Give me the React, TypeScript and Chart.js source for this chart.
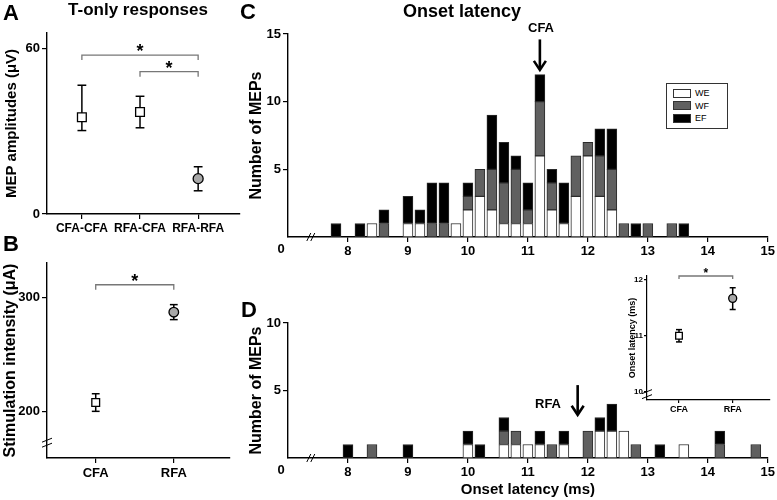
import React, { useEffect, useRef } from 'react';
import { Chart, registerables } from 'chart.js';
Chart.register(...registerables);

const FONT = "'Liberation Sans', Arial, Helvetica, sans-serif";
const PAGE_W = 777;
const PAGE_H = 500;

// ---------- Panel A: T-only responses ----------
const ampCategories = ['CFA-CFA', 'RFA-CFA', 'RFA-RFA'];
const ampMeans = [35.0, 36.9, 12.8];
const ampLow = [30.2, 31.2, 8.4];
const ampHigh = [46.6, 42.6, 17.1];
const ampTicks = [0, 60];
const ampBrackets = [
  { from: 1, to: 3, y: 57.5 },
  { from: 2, to: 3, y: 51.5 },
];

// ---------- Panel B: stimulation intensity ----------
const stimCategories = ['CFA', 'RFA'];
const stimMeans = [208.1, 287.0];
const stimLow = [200.3, 280.5];
const stimHigh = [215.7, 293.6];
const stimTicks = [200, 300];
const stimBrackets = [{ from: 1, to: 2, y: 311 }];

// ---------- Panels C/D: onset latency histograms ----------
const latencyBins = [7.8, 8.0, 8.2, 8.4, 8.6, 8.8, 9.0, 9.2, 9.4, 9.6, 9.8, 10.0, 10.2, 10.4, 10.6, 10.8, 11.0, 11.2, 11.4, 11.6, 11.8, 12.0, 12.2, 12.4, 12.6, 12.8, 13.0, 13.2, 13.4, 13.6, 13.8, 14.0, 14.2, 14.4, 14.6, 14.8];
const latencyTicks = [8, 9, 10, 11, 12, 13, 14, 15];

const cfaWE = [0, 0, 0, 1, 0, 0, 1, 1, 0, 0, 1, 2, 3, 2, 1, 1, 1, 6, 2, 1, 3, 6, 3, 2, 0, 0, 0, 0, 0, 0, 0, 0, 0, 0, 0, 0];
const cfaWF = [0, 0, 0, 0, 1, 0, 0, 0, 1, 1, 0, 1, 2, 3, 3, 4, 1, 4, 2, 0, 3, 1, 3, 3, 1, 0, 1, 0, 1, 0, 0, 0, 0, 0, 0, 0];
const cfaEF = [1, 0, 1, 0, 1, 0, 2, 1, 3, 3, 0, 1, 0, 4, 3, 1, 2, 2, 1, 3, 0, 0, 2, 3, 0, 1, 0, 0, 0, 1, 0, 0, 0, 0, 0, 0];
const cfaCountTicks = [5, 10, 15];
const cfaArrowAt = 11.2;

const rfaWE = [0, 0, 0, 0, 0, 0, 0, 0, 0, 0, 0, 1, 0, 0, 1, 1, 1, 1, 0, 1, 0, 0, 2, 2, 2, 0, 0, 0, 0, 1, 0, 0, 0, 0, 0, 0];
const rfaWF = [0, 0, 0, 1, 0, 0, 0, 0, 0, 0, 0, 0, 0, 0, 1, 1, 0, 0, 1, 0, 0, 2, 0, 0, 0, 1, 0, 0, 0, 0, 0, 0, 1, 0, 0, 1];
const rfaEF = [0, 1, 0, 0, 0, 0, 1, 0, 0, 0, 0, 1, 1, 0, 1, 0, 0, 1, 0, 1, 0, 0, 1, 2, 0, 0, 0, 1, 0, 0, 0, 0, 1, 0, 0, 0];
const rfaCountTicks = [5, 10];
const rfaArrowAt = 11.83;

const seriesNames = ['WE', 'WF', 'EF'];
const seriesColors = ['#ffffff', '#606060', '#000000'];

// ---------- Inset: onset latency means ----------
const insetCategories = ['CFA', 'RFA'];
const insetMeans = [11.0, 11.67];
const insetLow = [10.89, 11.47];
const insetHigh = [11.11, 11.86];
const insetTicks = [10, 11, 12];
const insetBrackets = [{ from: 1, to: 2, y: 12.07 }];

// ---------- helpers ----------
const fixWidth = (w: number) => (s: any) => { s.width = w; };
const fixHeight = (h: number) => (s: any) => { s.height = h; };
const setTicks = (vals: number[]) => (s: any) => { s.ticks = vals.map((v) => ({ value: v })); };
const bold = (size: number) => ({ family: FONT, size, weight: 'bold' as const });

const axisBorder = { display: true, color: '#000', width: 1.4 };
const tickGrid = (len: number) => ({ display: true, drawOnChartArea: false, drawTicks: true, tickLength: len, color: '#000', lineWidth: 1.2 });

function errorBarPlugin(xs: number[], lows: number[], highs: number[], cap: number) {
  return {
    id: 'errorBars',
    beforeDatasetsDraw(chart: any) {
      const { ctx, scales } = chart;
      const x = scales.x, y = scales.y;
      ctx.save();
      ctx.strokeStyle = '#000';
      ctx.lineWidth = 1.5;
      xs.forEach((xv, i) => {
        const px = x.getPixelForValue(xv);
        const top = y.getPixelForValue(highs[i]);
        const bot = y.getPixelForValue(lows[i]);
        ctx.beginPath();
        ctx.moveTo(px, top); ctx.lineTo(px, bot);
        ctx.stroke();
        ctx.beginPath();
        ctx.moveTo(px - cap, top); ctx.lineTo(px + cap, top);
        ctx.stroke();
        ctx.beginPath();
        ctx.moveTo(px - cap, bot); ctx.lineTo(px + cap, bot);
        ctx.stroke();
      });
      ctx.restore();
    },
  };
}

function bracketPlugin(brackets: { from: number; to: number; y: number }[], drop: number, star: number) {
  return {
    id: 'brackets',
    afterDraw(chart: any) {
      const { ctx, scales } = chart;
      const x = scales.x, y = scales.y;
      ctx.save();
      brackets.forEach((b) => {
        const x1 = x.getPixelForValue(b.from);
        const x2 = x.getPixelForValue(b.to);
        const py = y.getPixelForValue(b.y);
        ctx.strokeStyle = '#777';
        ctx.lineWidth = 1.3;
        ctx.beginPath();
        ctx.moveTo(x1, py + drop); ctx.lineTo(x1, py); ctx.lineTo(x2, py); ctx.lineTo(x2, py + drop);
        ctx.stroke();
        ctx.fillStyle = '#000';
        ctx.font = `bold ${star}px ${FONT}`;
        ctx.textAlign = 'center';
        ctx.textBaseline = 'alphabetic';
        ctx.fillText('*', (x1 + x2) / 2, py + star * 0.12);
      });
      ctx.restore();
    },
  };
}

function drawBreak(ctx: any, px: number, py: number, horizontalAxis: boolean) {
  ctx.save();
  ctx.strokeStyle = '#000';
  ctx.lineWidth = 1;
  ctx.beginPath();
  if (horizontalAxis) {
    [-2, 2].forEach((d) => { ctx.moveTo(px + d - 2, py + 4); ctx.lineTo(px + d + 2, py - 4); });
  } else {
    [-2.5, 2.5].forEach((d) => { ctx.moveTo(px - 5, py + d + 2); ctx.lineTo(px + 5, py + d - 2); });
  }
  ctx.stroke();
  ctx.restore();
}

function yBreakPlugin(at: number) {
  return {
    id: 'yBreak',
    afterDraw(chart: any) {
      const { ctx, scales } = chart;
      drawBreak(ctx, scales.x.left, scales.y.getPixelForValue(at), false);
    },
  };
}

function histExtrasPlugin(arrowAt: number, arrowTop: number, arrowTip: number, breakAt: number) {
  return {
    id: 'histExtras',
    afterDraw(chart: any) {
      const { ctx, scales } = chart;
      const x = scales.x, y = scales.y;
      const ax = x.getPixelForValue(arrowAt);
      const t = y.getPixelForValue(arrowTop);
      const b = y.getPixelForValue(arrowTip);
      ctx.save();
      ctx.strokeStyle = '#000';
      ctx.lineWidth = 2.6;
      ctx.beginPath(); ctx.moveTo(ax, t); ctx.lineTo(ax, b - 1); ctx.stroke();
      ctx.beginPath(); ctx.moveTo(ax - 6, b - 9); ctx.lineTo(ax, b); ctx.lineTo(ax + 6, b - 9); ctx.stroke();
      ctx.restore();
      drawBreak(ctx, x.getPixelForValue(breakAt), y.bottom, true);
      ctx.save();
      ctx.fillStyle = '#000';
      ctx.font = `bold 13px ${FONT}`;
      ctx.textAlign = 'center';
      ctx.textBaseline = 'middle';
      ctx.fillText('0', x.left - 7, y.bottom + 12);
      ctx.restore();
    },
  };
}

function pointDataset(xs: number[], ys: number[], styles: string[], radii: number[], fills: string[]) {
  return {
    data: xs.map((xv, i) => ({ x: xv, y: ys[i] })),
    pointStyle: styles,
    pointRadius: radii,
    backgroundColor: fills,
    borderColor: '#000',
    borderWidth: 1.3,
    showLine: false,
  };
}

// ---------- chart configs ----------
function configA() {
  const xs = ampCategories.map((_, i) => i + 1);
  const ds = pointDataset(xs, ampMeans, ['rect', 'rect', 'circle'], [6.2, 6.2, 5], ['#ffffff', '#ffffff', '#a8a8a8']);
  return {
    type: 'scatter',
    data: { datasets: [ds] },
    options: {
      responsive: false, animation: false, events: [],
      layout: { padding: { left: 3, right: PAGE_W - 240, top: 33, bottom: PAGE_H - 214 - 22 } },
      plugins: { legend: { display: false }, tooltip: { enabled: false } },
      scales: {
        x: {
          type: 'linear', min: 0.4, max: 3.72,
          afterBuildTicks: setTicks(xs), afterFit: fixHeight(22),
          border: axisBorder, grid: tickGrid(5),
          ticks: { font: bold(12), color: '#000', padding: 2, maxRotation: 0, autoSkip: false, callback: (v: number) => ampCategories[Math.round(v) - 1] },
        },
        y: {
          min: 0, max: 65.5,
          afterBuildTicks: setTicks(ampTicks), afterFit: fixWidth(44),
          border: axisBorder, grid: tickGrid(5),
          ticks: { font: bold(13), color: '#000', padding: 2 },
          title: { display: true, text: 'MEP amplitudes (μV)', font: bold(15), color: '#000', padding: 0 },
        },
      },
    },
    plugins: [errorBarPlugin(xs, ampLow, ampHigh, 4.4), bracketPlugin(ampBrackets, 5, 18)],
  };
}

function configB() {
  const xs = stimCategories.map((_, i) => i + 1);
  const ds = pointDataset(xs, stimMeans, ['rect', 'circle'], [5.5, 4.8], ['#ffffff', '#a8a8a8']);
  return {
    type: 'scatter',
    data: { datasets: [ds] },
    options: {
      responsive: false, animation: false, events: [],
      layout: { padding: { left: 1, right: PAGE_W - 230, top: 263, bottom: PAGE_H - 458 - 26 } },
      plugins: { legend: { display: false }, tooltip: { enabled: false } },
      scales: {
        x: {
          type: 'linear', min: 0.376, max: 2.72,
          afterBuildTicks: setTicks(xs), afterFit: fixHeight(26),
          border: axisBorder, grid: tickGrid(5),
          ticks: { font: bold(13), color: '#000', padding: 3, maxRotation: 0, autoSkip: false, callback: (v: number) => stimCategories[Math.round(v) - 1] },
        },
        y: {
          min: 159.5, max: 330,
          afterBuildTicks: setTicks(stimTicks), afterFit: fixWidth(46),
          border: axisBorder, grid: tickGrid(5),
          ticks: { font: bold(13), color: '#000', padding: 2 },
          title: { display: true, text: 'Stimulation intensity (μA)', font: bold(16), color: '#000', padding: 0 },
        },
      },
    },
    plugins: [errorBarPlugin(xs, stimLow, stimHigh, 3.9), bracketPlugin(stimBrackets, 5, 18), yBreakPlugin(172.9)],
  };
}

function histConfig(we: number[], wf: number[], ef: number[], top: number, bottom: number, yMax: number, yTicks: number[], withXTitle: boolean, arrowAt: number, arrowTop: number, arrowTip: number) {
  const series = [we, wf, ef];
  const xAxisH = withXTitle ? 41 : 25;
  return {
    type: 'bar',
    data: {
      datasets: series.map((arr, k) => ({
        label: seriesNames[k],
        data: latencyBins.map((b, i) => ({ x: b, y: arr[i] > 0 ? arr[i] : null })),
        backgroundColor: seriesColors[k],
        borderColor: '#2a2a2a',
        borderWidth: 1,
        borderSkipped: false,
        barThickness: 10,
      })),
    },
    options: {
      responsive: false, animation: false, events: [],
      layout: { padding: { left: 247, right: PAGE_W - 768, top, bottom: PAGE_H - bottom - xAxisH } },
      plugins: { legend: { display: false }, tooltip: { enabled: false } },
      scales: {
        x: {
          type: 'linear', min: 7, max: 15, stacked: true, offset: false,
          afterBuildTicks: setTicks(latencyTicks), afterFit: fixHeight(xAxisH),
          border: axisBorder, grid: { ...tickGrid(5), offset: false },
          ticks: { font: bold(13), color: '#000', padding: 2, maxRotation: 0, autoSkip: false },
          title: { display: withXTitle, text: 'Onset latency (ms)', font: bold(15), color: '#000', padding: 0 },
        },
        y: {
          min: 0, max: yMax, stacked: true,
          afterBuildTicks: setTicks(yTicks), afterFit: fixWidth(41),
          border: axisBorder, grid: tickGrid(5),
          ticks: { font: bold(13), color: '#000', padding: 2 },
          title: { display: true, text: 'Number of MEPs', font: bold(16), color: '#000', padding: 0 },
        },
      },
    },
    plugins: [histExtrasPlugin(arrowAt, arrowTop, arrowTip, 7.38)],
  };
}

function configInset() {
  const xs = insetCategories.map((_, i) => i + 1);
  const ds = pointDataset(xs, insetMeans, ['rect', 'circle'], [4.7, 4], ['#ffffff', '#a8a8a8']);
  return {
    type: 'scatter',
    data: { datasets: [ds] },
    options: {
      responsive: false, animation: false, events: [],
      layout: { padding: { left: 627, right: PAGE_W - 770, top: 276, bottom: PAGE_H - 400 - 17 } },
      plugins: { legend: { display: false }, tooltip: { enabled: false } },
      scales: {
        x: {
          type: 'linear', min: 0.404, max: 2.695,
          afterBuildTicks: setTicks(xs), afterFit: fixHeight(17),
          border: { display: true, color: '#000', width: 1.2 }, grid: tickGrid(3),
          ticks: { font: bold(9), color: '#000', padding: 1, maxRotation: 0, autoSkip: false, callback: (v: number) => insetCategories[Math.round(v) - 1] },
        },
        y: {
          min: 9.85, max: 12.07,
          afterBuildTicks: setTicks(insetTicks), afterFit: fixWidth(20),
          border: { display: true, color: '#000', width: 1.2 }, grid: tickGrid(3),
          ticks: { font: bold(8), color: '#000', padding: 1 },
          title: { display: true, text: 'Onset latency (ms)', font: bold(9), color: '#000', padding: 0 },
        },
      },
    },
    plugins: [errorBarPlugin(xs, insetLow, insetHigh, 3), bracketPlugin(insetBrackets, 3, 12), yBreakPlugin(9.955)],
  };
}

function ChartLayer({ make }: { make: () => any }) {
  const ref = useRef<HTMLCanvasElement | null>(null);
  useEffect(() => {
    if (!ref.current) return;
    const chart = new Chart(ref.current, make());
    return () => chart.destroy();
  }, []);
  return (
    <canvas
      ref={ref}
      width={PAGE_W}
      height={PAGE_H}
      style={{ position: 'absolute', left: 0, top: 0, width: PAGE_W, height: PAGE_H }}
    />
  );
}

const textStyle = (left: number, top: number, size: number, lh: number, center = false): React.CSSProperties => ({
  position: 'absolute',
  left,
  top,
  fontFamily: FONT,
  fontWeight: 'bold',
  fontSize: size,
  lineHeight: `${lh}px`,
  color: '#000',
  whiteSpace: 'nowrap',
  transform: center ? 'translateX(-50%)' : undefined,
});

export default function App() {
  return (
    <div style={{ position: 'absolute', left: 0, top: 0, width: PAGE_W, height: PAGE_H, background: '#fff', overflow: 'hidden' }}>
      <ChartLayer make={configA} />
      <ChartLayer make={configB} />
      <ChartLayer make={() => histConfig(cfaWE, cfaWF, cfaEF, 34, 237, 15, cfaCountTicks, false, cfaArrowAt, 14.6, 12.35)} />
      <ChartLayer make={() => histConfig(rfaWE, rfaWF, rfaEF, 323, 458, 10, rfaCountTicks, true, rfaArrowAt, 5.4, 3.2)} />
      <ChartLayer make={configInset} />

      <div style={textStyle(3, 3, 22, 20)}>A</div>
      <div style={textStyle(3, 234, 22, 20)}>B</div>
      <div style={textStyle(240, 2, 22, 20)}>C</div>
      <div style={textStyle(241, 300, 22, 20)}>D</div>
      <div style={textStyle(138, 1, 17, 18, true)}>T-only responses</div>
      <div style={textStyle(462, 1, 18, 20, true)}>Onset latency</div>
      <div style={textStyle(541, 20, 13, 16, true)}>CFA</div>
      <div style={textStyle(548, 396, 13, 16, true)}>RFA</div>

      <div style={{ position: 'absolute', left: 666, top: 83, width: 60, height: 44, border: '1px solid #333', background: '#fff' }}>
        {seriesNames.map((name, k) => (
          <div key={name} style={{ position: 'absolute', left: 6, top: 4 + k * 12.5, height: 10, display: 'flex', alignItems: 'center' }}>
            <div style={{ width: 18, height: 9, background: seriesColors[k], border: '1px solid #333', boxSizing: 'border-box' }} />
            <span style={{ marginLeft: 4, fontFamily: FONT, fontSize: 9, lineHeight: '10px', color: '#000' }}>{name}</span>
          </div>
        ))}
      </div>
    </div>
  );
}
